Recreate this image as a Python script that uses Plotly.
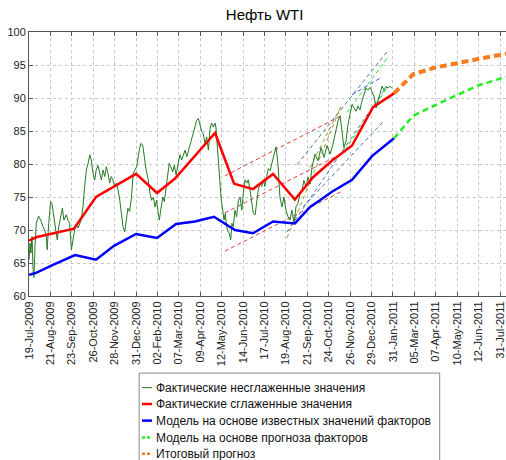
import plotly.graph_objects as go

# x in tick units (one unit per date label below)
tick_labels = ["19-Jul-2009", "21-Aug-2009", "23-Sep-2009", "26-Oct-2009", "28-Nov-2009",
               "31-Dec-2009", "02-Feb-2010", "07-Mar-2010", "09-Apr-2010", "12-May-2010",
               "14-Jun-2010", "17-Jul-2010", "19-Aug-2010", "21-Sep-2010", "24-Oct-2010",
               "26-Nov-2010", "29-Dec-2010", "31-Jan-2011", "05-Mar-2011", "07-Apr-2011",
               "10-May-2011", "12-Jun-2011", "31-Jul-2011"]

# actual unsmoothed prices
raw_t = [0.00, 0.05, 0.09, 0.14, 0.19, 0.23, 0.28, 0.34, 0.45, 0.57, 0.65, 0.73, 0.81, 0.85, 0.92,
         1.01, 1.07, 1.17, 1.23, 1.32, 1.39, 1.48, 1.56, 1.63, 1.74, 1.82, 1.90, 1.98, 2.06, 2.13,
         2.21, 2.29, 2.44, 2.52, 2.60, 2.68, 2.76, 2.84, 2.91, 2.99, 3.07, 3.14, 3.22, 3.30, 3.38,
         3.46, 3.54, 3.61, 3.69, 3.77, 3.84, 3.92, 4.00, 4.08, 4.16, 4.24, 4.31, 4.39, 4.47, 4.54,
         4.62, 4.70, 4.78, 4.87, 5.03, 5.15, 5.22, 5.31, 5.37, 5.47, 5.57, 5.65, 5.73, 5.81, 5.89,
         5.96, 6.04, 6.09, 6.15, 6.25, 6.32, 6.40, 6.46, 6.55, 6.62, 6.71, 6.79, 6.87, 6.97, 7.05,
         7.13, 7.21, 7.29, 7.37, 7.44, 7.52, 7.60, 7.67, 7.75, 7.83, 7.91, 7.99, 8.07, 8.14, 8.22,
         8.30, 8.38, 8.45, 8.53, 8.61, 8.69, 8.73, 8.80, 8.86, 8.92, 8.98, 9.05, 9.11, 9.17, 9.23,
         9.30, 9.36, 9.42, 9.48, 9.54, 9.62, 9.70, 9.78, 9.86, 9.94, 10.01, 10.09, 10.17, 10.24, 10.32,
         10.40, 10.48, 10.56, 10.64, 10.71, 10.79, 10.87, 10.94, 11.02, 11.10, 11.18, 11.26, 11.40, 11.54, 11.63,
         11.72, 11.82, 11.91, 12.00, 12.10, 12.19, 12.28, 12.38, 12.47, 12.56, 12.66, 12.75, 12.84, 12.94, 13.03,
         13.13, 13.22, 13.36, 13.50, 13.64, 13.78, 13.92, 14.06, 14.20, 14.34, 14.43, 14.53, 14.62, 14.71, 14.81,
         14.90, 14.99, 15.09, 15.18, 15.28, 15.37, 15.46, 15.55, 15.65, 15.74, 15.83, 15.93, 16.02, 16.12, 16.21,
         16.30, 16.40, 16.49, 16.58, 16.68, 16.77, 16.86, 16.95]
raw_v = [65.5, 68.0, 66.5, 69.0, 64.0, 62.8, 67.5, 71.0, 72.1, 71.3, 70.5, 70.0, 69.0, 67.0, 71.0,
         74.3, 74.0, 72.0, 71.0, 68.5, 70.5, 72.0, 73.3, 71.5, 72.3, 71.5, 71.0, 67.0, 68.5, 70.0,
         70.8, 70.3, 71.5, 73.5, 76.6, 79.1, 80.1, 81.4, 80.6, 78.6, 77.6, 79.1, 79.8, 78.6, 77.6,
         79.1, 78.1, 79.6, 78.6, 77.1, 78.1, 77.6, 76.6, 77.1, 76.1, 74.5, 72.5, 70.5, 69.7, 71.5,
         73.3, 72.8, 74.8, 78.6, 79.6, 82.1, 83.1, 82.9, 81.1, 79.1, 77.6, 75.6, 74.5, 75.0, 73.5,
         74.5, 72.5, 71.5, 73.0, 75.0, 74.3, 76.6, 78.1, 80.1, 79.6, 78.8, 79.8, 78.3, 80.1, 81.4,
         80.6, 81.4, 82.1, 81.1, 81.9, 82.6, 83.6, 84.6, 85.6, 86.6, 86.9, 85.9, 84.9, 84.6, 83.1,
         84.1, 82.1, 85.2, 86.2, 85.6, 86.2, 85.6, 82.1, 79.6, 76.6, 74.5, 73.0, 71.5, 72.5, 70.5,
         69.7, 69.5, 68.5, 71.0, 70.5, 73.0, 72.0, 74.5, 75.0, 73.0, 75.6, 77.6, 77.1, 77.6, 76.1,
         74.5, 72.5, 72.3, 74.5, 76.1, 77.1, 76.6, 77.6, 76.6, 78.1, 79.3, 79.0, 81.0, 82.6, 80.0,
         75.0, 73.5, 75.0, 73.0, 72.0, 71.5, 73.0, 71.0, 73.5, 74.0, 75.5, 76.0, 77.5, 76.5, 78.0,
         77.0, 79.5, 81.5, 80.5, 82.5, 81.0, 82.8, 81.5, 83.0, 85.5, 86.5, 87.3, 85.0, 82.5, 83.5,
         86.0, 87.5, 89.0, 88.5, 88.0, 88.8, 88.2, 89.5, 90.5, 91.5, 91.2, 91.6, 91.0, 90.2, 88.5,
         89.5, 91.0, 91.8, 91.2, 91.7, 91.5, 91.8, 91.5]

# actual smoothed values
smooth_t = [0, 0.33, 2.10, 3.13, 5.00, 5.98, 6.82, 8.69, 9.58, 10.46, 11.40, 12.42, 13.27, 14.15, 15.09, 16.07, 17.05]
smooth_v = [68.4, 68.9, 70.2, 75.0, 78.5, 75.6, 77.8, 84.7, 77.0, 76.2, 78.5, 74.6, 78.0, 80.5, 82.8, 88.6, 90.7]

# model on known factor values
model_t = [0, 0.33, 1.12, 2.15, 3.13, 3.97, 5.00, 5.98, 6.87, 7.75, 8.64, 9.62, 10.46, 11.40, 12.42,
           13.13, 13.59, 14.15, 15.09, 16.02, 17.05]
model_v = [63.2, 63.5, 64.7, 66.2, 65.5, 67.6, 69.4, 68.8, 70.9, 71.3, 72.0, 70.0, 69.5, 71.3, 71.0,
           73.5, 74.5, 75.8, 77.6, 81.2, 83.9]

# model on forecast factors
fcf_t = [17.05, 17.94, 18.96, 19.94, 20.97, 22.28]
fcf_v = [83.9, 87.3, 88.9, 90.4, 91.9, 93.2]

# final forecast
final_t = [17.05, 17.94, 18.96, 19.94, 20.97, 22.28]
final_v = [90.7, 93.6, 94.6, 95.3, 95.9, 96.7]

# trend channels: (color, t0, t1, v0, v1)
channels = [
    ("#e04040", 9.15, 14.57, 78.2, 87.3),
    ("#e04040", 9.15, 14.57, 72.6, 81.5),
    ("#e04040", 9.15, 14.57, 66.8, 75.8),
    ("#4a7ab0", 12.52, 16.72, 79.9, 97.0),
    ("#4a7ab0", 12.05, 16.72, 69.7, 91.8),
    ("#4a7ab0", 12.80, 16.63, 73.5, 86.7),
    ("#9a9a40", 12.05, 14.57, 68.8, 88.7),
    ("#9a9a40", 13.13, 14.57, 79.5, 88.7),
    ("#33dd33", 14.85, 16.72, 87.8, 96.0),
    ("#33dd33", 14.76, 16.72, 82.1, 91.5),
    ("#3355dd", 15.09, 16.40, 90.5, 93.0),
]

legend_names = ["Фактические несглаженные значения", "Фактические сглаженные значения",
                "Модель на основе известных значений факторов", "Модель на основе прогноза факторов",
                "Итоговый прогноз"]
styles = [dict(color="#237a23", width=1),
          dict(color="#ff0000", width=2.5),
          dict(color="#0000ff", width=2.5),
          dict(color="#22ee22", width=2.5, dash="6px,4px"),
          dict(color="#ff7a1a", width=4, dash="7px,4px")]

fig = go.Figure()

for col, t0, t1, v0, v1 in channels:
    fig.add_trace(go.Scatter(x=[t0, t1], y=[v0, v1], mode="lines", showlegend=False,
                             line=dict(color=col, width=1, dash="4px,3px"), hoverinfo="skip"))

series = [(raw_t, raw_v), (smooth_t, smooth_v), (model_t, model_v), (fcf_t, fcf_v), (final_t, final_v)]
for (xs, ys), name, st in zip(series, legend_names, styles):
    fig.add_trace(go.Scatter(x=xs, y=ys, mode="lines", name=name, line=st, showlegend=False))

# legend drawn by hand, matlab style (short line samples)
fig.add_shape(type="rect", xref="paper", yref="paper", x0=0.231, x1=0.861, y0=-0.625, y1=-0.292,
              line=dict(color="#888", width=1), fillcolor="white")
row_y = [-0.347, -0.409, -0.472, -0.536, -0.598]
for name, st, ry in zip(legend_names, styles, row_y):
    d = st.get("dash", "solid")
    fig.add_shape(type="line", xref="paper", yref="paper", x0=0.2369, x1=0.2579, y0=ry, y1=ry,
                  line=dict(color=st["color"], width=min(st["width"], 2.5), dash="3px,2px" if d != "solid" else "solid"))
    fig.add_annotation(x=0.2620, y=ry, xref="paper", yref="paper", text=name, showarrow=False,
                       xanchor="left", yanchor="middle",
                       font=dict(family="Liberation Sans, Arial", size=12, color="#111"))

axis_font = dict(family="Liberation Sans, Arial", size=11, color="#222")
fig.update_layout(
    width=506, height=460, autosize=False,
    margin=dict(l=29, r=0, t=32, b=164, autoexpand=False),
    plot_bgcolor="white", paper_bgcolor="white",
    title=dict(text="Нефть WTI", x=0.523, xanchor="center", y=0.969, yanchor="middle",
               font=dict(family="Liberation Sans, Arial", size=15, color="black")),
    xaxis=dict(range=[0, 22.28], tickmode="array", tickvals=list(range(len(tick_labels))),
               ticktext=tick_labels, tickangle=-90, tickfont=axis_font, automargin=False,
               showgrid=True, gridcolor="#c8c8c8", griddash="dot", gridwidth=1,
               showline=True, linecolor="#555", linewidth=1, mirror="ticks",
               ticks="inside", ticklen=4, tickcolor="#555", zeroline=False),
    yaxis=dict(range=[60, 100], dtick=5, tickfont=axis_font, automargin=False,
               showgrid=True, gridcolor="#c8c8c8", griddash="dot", gridwidth=1,
               showline=True, linecolor="#555", linewidth=1,
               ticks="inside", ticklen=4, tickcolor="#555", zeroline=False),
    showlegend=False,
)

# drop the page's default body margin so the figure sits at the window corner
fig.write_html("out.html", config={"displayModeBar": False},
               post_script="document.body.style.margin='0';")
